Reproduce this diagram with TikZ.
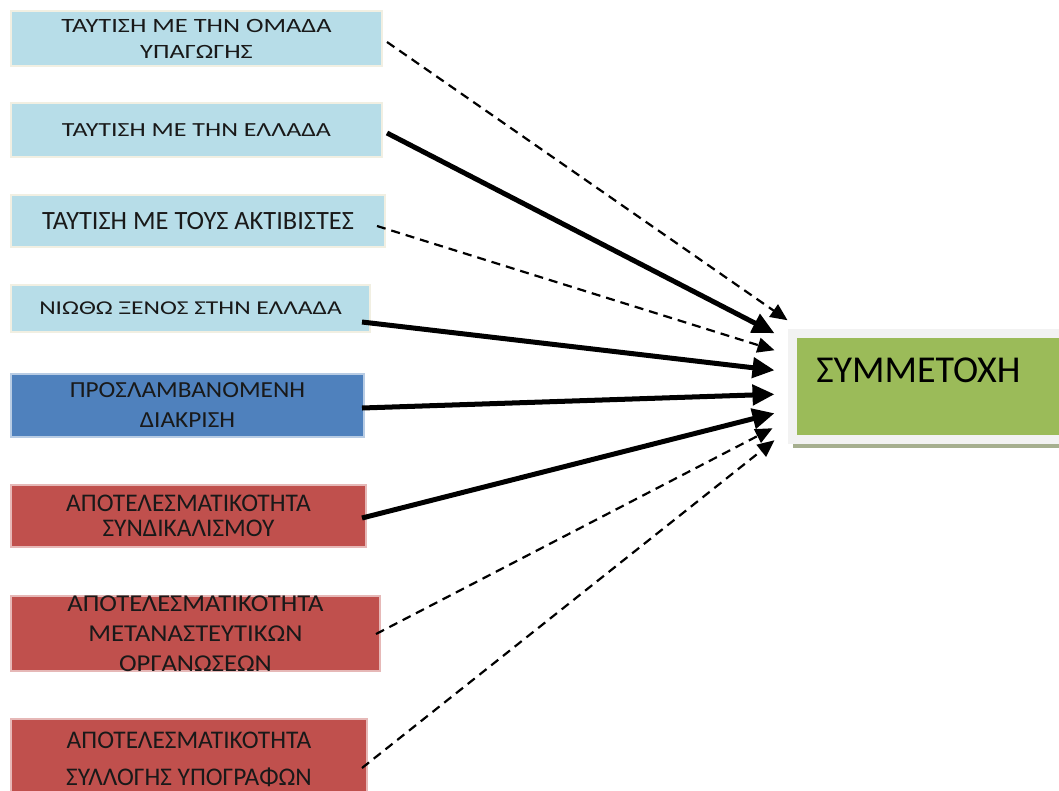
\documentclass[tikz,border=0pt]{standalone}
\usepackage{fontspec}
\setmainfont{Carlito}
\newfontfamily\widefont[FakeStretch=1.30]{Carlito}
\newfontfamily\halfwidefont[FakeStretch=1.10]{Carlito}
\usetikzlibrary{arrows.meta,shadows}

\definecolor{paleblue}{HTML}{B7DDE8}
\definecolor{cream}{HTML}{F1EFE2}
\definecolor{midblue}{HTML}{4F81BD}
\definecolor{skyline}{HTML}{B8CCE4}
\definecolor{brickred}{HTML}{C0504D}
\definecolor{pinkline}{HTML}{E6B8B7}
\definecolor{leafgreen}{HTML}{9BBB59}
\definecolor{framegrey}{HTML}{F2F2F2}
\definecolor{shadowgrey}{HTML}{A6AF8F}

\begin{document}
\begin{tikzpicture}[x=1pt,y=-1pt,
    factor/.style={draw,line width=2pt,inner sep=0pt,align=center,text=black!90},
    identity/.style={factor,fill=paleblue,draw=cream},
    percept/.style={factor,fill=midblue,draw=skyline},
    efficacy/.style={factor,fill=brickred,draw=pinkline},
    strong/.style={line width=5pt,-{Triangle[length=22pt,width=20pt]}},
    weak/.style={line width=2.2pt,dash pattern=on 9pt off 6pt,-{Triangle[length=17pt,width=15pt]}}]
        \useasboundingbox (0,0) rectangle (1059,790);

        \node[identity,minimum width=371pt,minimum height=55pt,font=\widefont\fontsize{20.3}{26}\selectfont] (grp) at (196.5,38.5) {ΤΑΥΤΙΣΗ ΜΕ ΤΗΝ ΟΜΑΔΑ\\ΥΠΑΓΩΓΗΣ};
        \node[identity,minimum width=371pt,minimum height=54pt,font=\widefont\fontsize{20}{26}\selectfont] (greece) at (196.5,130) {ΤΑΥΤΙΣΗ ΜΕ ΤΗΝ ΕΛΛΑΔΑ};
        \node[identity,minimum width=374pt,minimum height=52pt,font=\fontsize{26.4}{30}\selectfont] (activists) at (198,221) {ΤΑΥΤΙΣΗ ΜΕ ΤΟΥΣ ΑΚΤΙΒΙΣΤΕΣ};
        \node[identity,minimum width=359pt,minimum height=47pt,font=\widefont\fontsize{19.6}{26}\selectfont] (stranger) at (190.5,308.5) {ΝΙΩΘΩ ΞΕΝΟΣ ΣΤΗΝ ΕΛΛΑΔΑ};
        \node[percept,minimum width=353pt,minimum height=63pt,font=\halfwidefont\fontsize{23}{30}\selectfont] (discrim) at (187.5,405.5) {ΠΡΟΣΛΑΜΒΑΝΟΜΕΝΗ\\ΔΙΑΚΡΙΣΗ};
        \node[efficacy,minimum width=355pt,minimum height=62pt,font=\fontsize{25.4}{25}\selectfont] (unions) at (188.5,515.5) {ΑΠΟΤΕΛΕΣΜΑΤΙΚΟΤΗΤΑ\\ΣΥΝΔΙΚΑΛΙΣΜΟΥ};
        \node[efficacy,minimum width=369pt,minimum height=71pt,font=\halfwidefont\fontsize{24.2}{30}\selectfont] (migrorg) at (195.5,633.5) {ΑΠΟΤΕΛΕΣΜΑΤΙΚΟΤΗΤΑ\\ΜΕΤΑΝΑΣΤΕΥΤΙΚΩΝ\\ΟΡΓΑΝΩΣΕΩΝ};
        \node[efficacy,minimum width=356pt,minimum height=80pt,font=\fontsize{25.4}{37}\selectfont] (petition) at (189,759) {ΑΠΟΤΕΛΕΣΜΑΤΙΚΟΤΗΤΑ\\ΣΥΛΛΟΓΗΣ ΥΠΟΓΡΑΦΩΝ};

        \node[fill=leafgreen,draw=framegrey,line width=9pt,
              drop shadow={shadow xshift=0pt,shadow yshift=-9pt,fill=shadowgrey,opacity=1},
              minimum width=282.5pt,minimum height=105.5pt,inner xsep=23.5pt,inner ysep=0pt,
              text width=235pt,align=left,text height=25pt,text depth=33pt,
              font=\fontsize{38}{40}\selectfont] (part) at (933.75,386.25) {ΣΥΜΜΕΤΟΧΗ};

        \draw[weak] ([shift={(4,3.5)}]grp.east) -- ([shift={(-0.5,-66)}]part.west);
        \draw[strong] ([shift={(4,3)}]greece.east) -- ([shift={(-13.5,-53)}]part.west);
        \draw[weak] ([shift={(-9,5)}]activists.east) -- ([shift={(-13.5,-36)}]part.west);
        \draw[strong] ([shift={(-9,13.5)}]stranger.east) -- ([shift={(-13.5,-16)}]part.west);
        \draw[strong] ([shift={(-3,2.5)}]discrim.east) -- ([shift={(-13.5,8)}]part.west);
        \draw[strong] ([shift={(-5,2.5)}]unions.east) -- ([shift={(-13.5,27)}]part.west);
        \draw[weak] ([shift={(-5,0.5)}]migrorg.east) -- ([shift={(-15.5,42)}]part.west);
        \draw[weak] ([shift={(-6,9)}]petition.east) -- ([shift={(-13.5,54)}]part.west);
    \end{tikzpicture}
\end{document}
